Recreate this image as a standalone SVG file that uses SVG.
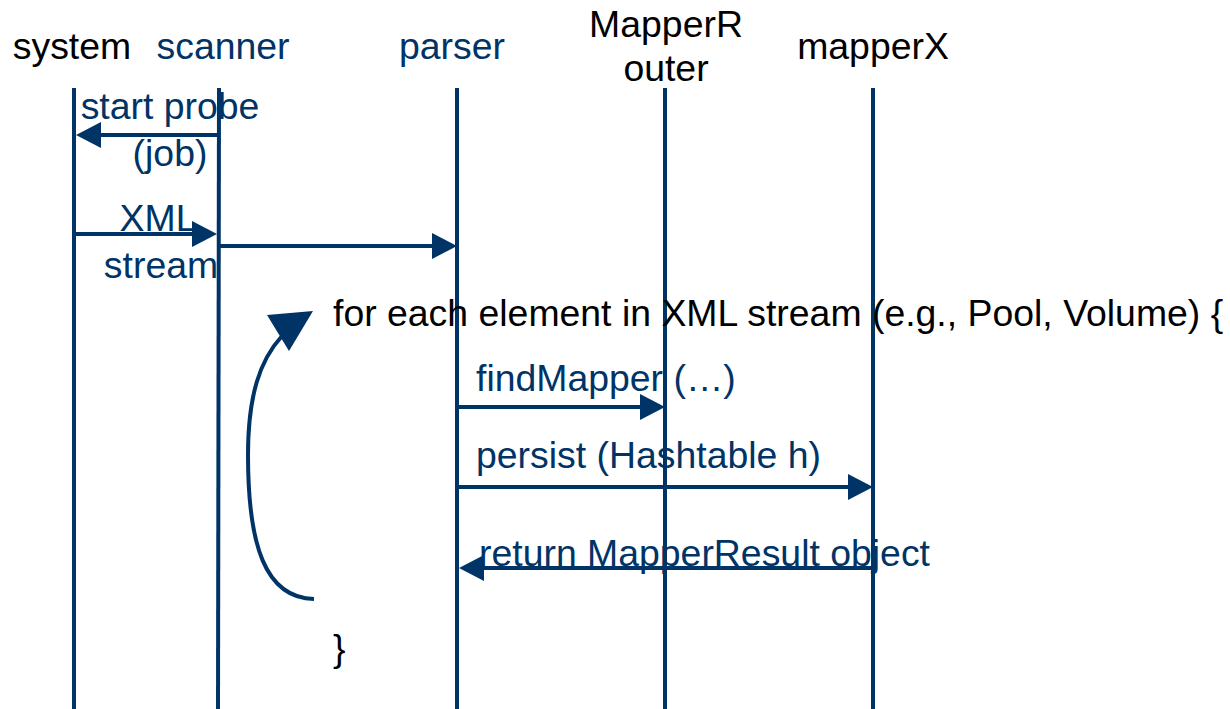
<svg xmlns="http://www.w3.org/2000/svg" width="1230" height="709" viewBox="0 0 1230 709">
<style>
text{font-family:"Liberation Sans",Arial,sans-serif;font-size:37.4px}
.k{fill:#000}
.n{fill:#003366}
.life{stroke:#003366;stroke-width:4;fill:none}
.msg{stroke:#003366;stroke-width:4;fill:none}
.head{fill:#003366}
</style>
<rect width="1230" height="709" fill="#fff"/>
<g id="system"><text class="k" x="72" y="59" text-anchor="middle">system</text><line class="life" x1="74" y1="88" x2="74" y2="709"/></g>
<g id="scanner"><text class="n" x="223" y="59" text-anchor="middle">scanner</text><line class="life" x1="219" y1="88" x2="218" y2="709"/></g>
<g id="parser"><text class="n" x="452" y="59" text-anchor="middle">parser</text><line class="life" x1="457" y1="88" x2="457" y2="709"/></g>
<g id="mapperrouter"><text class="k" x="666" y="37" text-anchor="middle">MapperR</text><text class="k" x="666" y="81" text-anchor="middle">outer</text><line class="life" x1="665" y1="88" x2="665" y2="709"/></g>
<g id="mapperx"><text class="k" x="873" y="59" text-anchor="middle">mapperX</text><line class="life" x1="873" y1="88" x2="873" y2="709"/></g>
<g id="loop"><text class="k" x="333" y="326">for each element in XML stream (e.g., Pool, Volume) {</text><text class="k" x="333" y="661">}</text></g>
<g id="connectors">
<line class="msg" x1="219" y1="135" x2="98" y2="135"/><polygon class="head" points="76,135 101,122 101,148"/>
<line class="msg" x1="74" y1="234" x2="195" y2="234"/><polygon class="head" points="217,234 192,221 192,247"/>
<line class="msg" x1="219" y1="246" x2="435" y2="246"/><polygon class="head" points="457,246 432,233 432,259"/>
<line class="msg" x1="457" y1="407" x2="643" y2="407"/><polygon class="head" points="665,407 640,394 640,420"/>
<line class="msg" x1="457" y1="487" x2="851" y2="487"/><polygon class="head" points="873,487 848,474 848,500"/>
<line class="msg" x1="873" y1="568" x2="481" y2="568"/><polygon class="head" points="459,568 484,555 484,581"/>
<path class="msg" d="M314,599 C265,598 248,545 248,455 C248,395 260,360 282,336"/>
<polygon class="head" points="267,315 313,311 289,351"/>
</g>
<g id="labels">
<text class="n" x="170" y="119" text-anchor="middle">start probe</text>
<text class="n" x="170" y="166" text-anchor="middle">(job)</text>
<text class="n" x="158" y="231" text-anchor="middle">XML</text>
<text class="n" x="161" y="278" text-anchor="middle">stream</text>
<text class="n" x="476" y="391">findMapper (…)</text>
<text class="n" x="476" y="468">persist (Hashtable h)</text>
<text class="n" x="479" y="566">return MapperResult object</text>
</g>
</svg>
